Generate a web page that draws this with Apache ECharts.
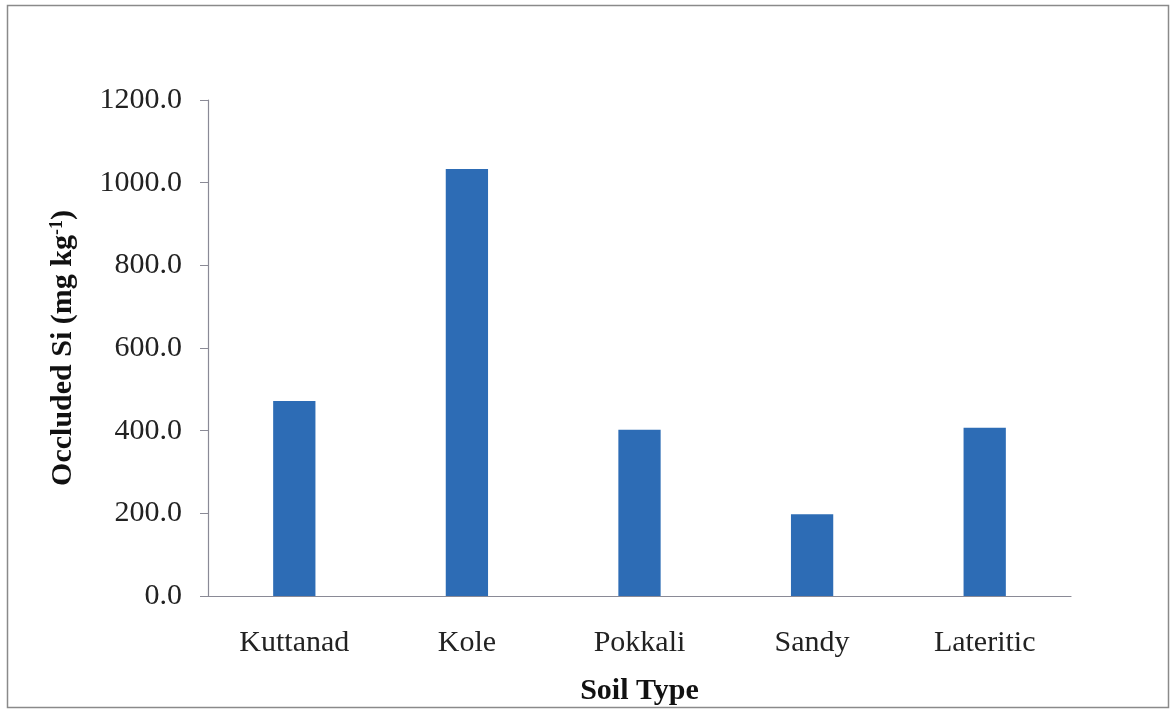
<!DOCTYPE html>
<html><head><meta charset="utf-8">
<script src="https://cdn.jsdelivr.net/npm/echarts@6/dist/echarts.min.js"></script>
<style>html,body{margin:0;padding:0;background:#fff}#c{width:1174px;height:710px}</style>
</head><body><div id="c"></div>
<script>
const categories = ['Kuttanad', 'Kole', 'Pokkali', 'Sandy', 'Lateritic'];
const occludedSi = [472, 1033, 402, 198, 407];
const yTicks = { min: 0, max: 1200, interval: 200 };

const chart = echarts.init(document.getElementById('c'));
const serif = '"Liberation Serif", "DejaVu Serif", serif';
chart.setOption({
  animation: false,
  graphic: [{
    type: 'rect', shape: { x: 7.5, y: 5.5, width: 1161, height: 702 },
    style: { fill: 'none', stroke: '#8a8a8a', lineWidth: 1.5 }, silent: true
  }],
  grid: { left: 208, right: 103, top: 100, bottom: 114, containLabel: false, outerBoundsMode: 'none' },
  xAxis: {
    type: 'category', data: categories,
    axisLine: { lineStyle: { color: '#8a8a96', width: 1.2 } },
    axisTick: { show: false },
    axisLabel: { color: '#222', fontFamily: serif, fontSize: 30, margin: 32 },
    name: 'Soil Type', nameLocation: 'middle', nameGap: 80,
    nameTextStyle: { color: '#111', fontFamily: serif, fontSize: 30, fontWeight: 'bold' }
  },
  yAxis: {
    type: 'value', min: yTicks.min, max: yTicks.max, interval: yTicks.interval,
    axisLine: { show: true, lineStyle: { color: '#8a8a96', width: 1.2 } },
    axisTick: { show: true, length: 8, lineStyle: { color: '#8a8a96' } },
    splitLine: { show: false },
    axisLabel: { color: '#222', fontFamily: serif, fontSize: 30, margin: 26,
      formatter: v => v.toFixed(1) },
    name: '{a|Occluded Si (mg kg}{s|-1}{a|)}', nameLocation: 'middle', nameGap: 130,
    nameTextStyle: {
      rich: {
        a: { color: '#111', fontFamily: serif, fontSize: 30, fontWeight: 'bold' },
        s: { color: '#111', fontFamily: serif, fontSize: 18, fontWeight: 'bold', verticalAlign: 'top', padding: [0, 0, 12, 0] }
      }
    }
  },
  series: [{
    type: 'bar', data: occludedSi, barWidth: '24.5%',
    itemStyle: { color: '#2d6cb5' }
  }]
});
</script></body></html>
